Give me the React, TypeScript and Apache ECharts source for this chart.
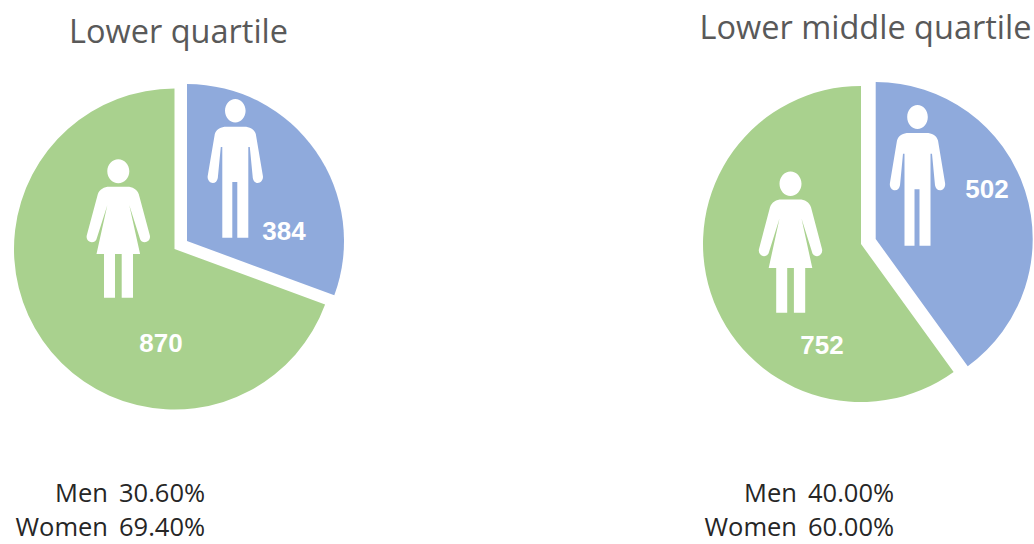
import React, { useEffect, useRef } from "react";
import * as echarts from "echarts";

const chartTitles = ["Lower quartile", "Lower middle quartile"];
const categories = ["Men", "Women"];
const lowerQuartile = [384, 870];
const lowerMiddleQuartile = [502, 752];
const lowerQuartileShare = ["30.60%", "69.40%"];
const lowerMiddleQuartileShare = ["40.00%", "60.00%"];

const BLUE = "#8FAADC";
const GREEN = "#A9D18E";

const MAN =
  "M0 0 C5.7 0 10.3 5.3 10.3 11.8 C10.3 18.3 5.7 23.6 0 23.6 C-5.7 23.6 -10.3 18.3 -10.3 11.8 C-10.3 5.3 -5.7 0 0 0 Z " +
  "M-9 27.7 L9 27.7 C14 27.7 19 30 20.5 35 L27.6 77 C28.2 81 25.5 84 22.5 84 C20 84 18 82 17.5 79 L14.5 48 L13 48 L13 138.7 L2 138.7 L2 83 L-3 83 L-3 138.7 L-13 138.7 L-13 48 L-14.5 48 L-17.5 79 C-18 82 -20 84 -22.5 84 C-25.5 84 -28.2 81 -27.6 77 L-20.5 35 C-19 30 -14 27.7 -9 27.7 Z";

const WOMAN =
  "M0 0 C6 0 11 5.4 11 12 C11 18.6 6 24 0 24 C-6 24 -11 18.6 -11 12 C-11 5.4 -6 0 0 0 Z " +
  "M-9 27.4 L9 27.4 C14 27.4 19 30 20.5 35 L31.5 76 C32.5 80 29.5 83 26.5 83 C24 83 22 81.5 21.5 79 L11 46 L21.8 94.7 L14.7 94.7 L14.7 138.4 L3.4 138.4 L3.4 94.7 L-3.3 94.7 L-3.3 138.4 L-14.3 138.4 L-14.3 94.7 L-21.8 94.7 L-11 46 L-21.5 79 C-22 81.5 -24 83 -26.5 83 C-29.5 83 -32.5 80 -31.5 76 L-20.5 35 C-19 30 -14 27.4 -9 27.4 Z";

echarts.graphic.registerShape("manIcon", echarts.graphic.extendPath(MAN, {}));
echarts.graphic.registerShape("womanIcon", echarts.graphic.extendPath(WOMAN, {}));

function slice(
  values: number[],
  visibleIndex: number,
  color: string,
  center: number[],
  radius: number,
  labelAt: number[]
) {
  return {
    type: "pie",
    silent: true,
    center,
    radius,
    startAngle: 90,
    clockwise: true,
    avoidLabelOverlap: false,
    labelLine: { show: false },
    labelLayout: { x: labelAt[0], y: labelAt[1], align: "center", verticalAlign: "middle" },
    data: values.map((value, i) => ({
      name: categories[i],
      value,
      itemStyle: { color: i === visibleIndex ? color : "transparent" },
      label: {
        show: i === visibleIndex,
        position: "inside",
        formatter: "{c}",
        color: "#ffffff",
        fontFamily: "Liberation Sans",
        fontWeight: "bold",
        fontSize: 26,
      },
    })),
  };
}

function shareText(label: string, share: string, nameRight: number, shareLeft: number, y: number) {
  const common = {
    fontFamily: "Open Sans",
    fontSize: 25.5,
    fill: "#262626",
    textVerticalAlign: "middle",
  };
  return [
    { type: "text", z: 10, x: nameRight, y, style: { ...common, text: label, textAlign: "right" } },
    { type: "text", z: 10, x: shareLeft, y, style: { ...common, text: share, textAlign: "left" } },
  ];
}

function titleText(text: string, x: number, y: number) {
  return {
    type: "text",
    z: 10,
    x,
    y,
    style: {
      text,
      fontFamily: "Open Sans",
      fontSize: 32.5,
      fill: "#595959",
      textAlign: "center",
      textVerticalAlign: "middle",
    },
  };
}

function icon(type: string, x: number, y: number, scaleY = 1) {
  return { type, z: 10, x, y, scaleY, style: { fill: "#ffffff" } };
}

export default function App() {
  const ref = useRef<HTMLDivElement>(null);

  useEffect(() => {
    document.body.style.margin = "0";
    const chart = echarts.init(ref.current!, null, { renderer: "svg" });
    chart.setOption({
      animation: false,
      backgroundColor: "#ffffff",
      series: [
        slice(lowerQuartile, 1, GREEN, [174.5, 249], 160.5, [161, 343]),
        slice(lowerQuartile, 0, BLUE, [187, 241], 157, [284, 231]),
        slice(lowerMiddleQuartile, 1, GREEN, [861, 244], 158, [822, 345]),
        slice(lowerMiddleQuartile, 0, BLUE, [875.7, 239], 157, [987, 189]),
      ],
      graphic: [
        titleText(chartTitles[0], 178.5, 30),
        titleText(chartTitles[1], 865.5, 26),
        icon("manIcon", 235.3, 99),
        icon("womanIcon", 118.3, 159.3),
        icon("manIcon", 917.5, 105, 1.015),
        icon("womanIcon", 790.5, 171.5, 1.02),
        ...shareText(categories[0], lowerQuartileShare[0], 108, 119, 492),
        ...shareText(categories[1], lowerQuartileShare[1], 108, 119, 526),
        ...shareText(categories[0], lowerMiddleQuartileShare[0], 797, 808, 492),
        ...shareText(categories[1], lowerMiddleQuartileShare[1], 797, 808, 526),
      ],
    });
    return () => chart.dispose();
  }, []);

  return <div ref={ref} style={{ width: 1034, height: 544 }} />;
}
